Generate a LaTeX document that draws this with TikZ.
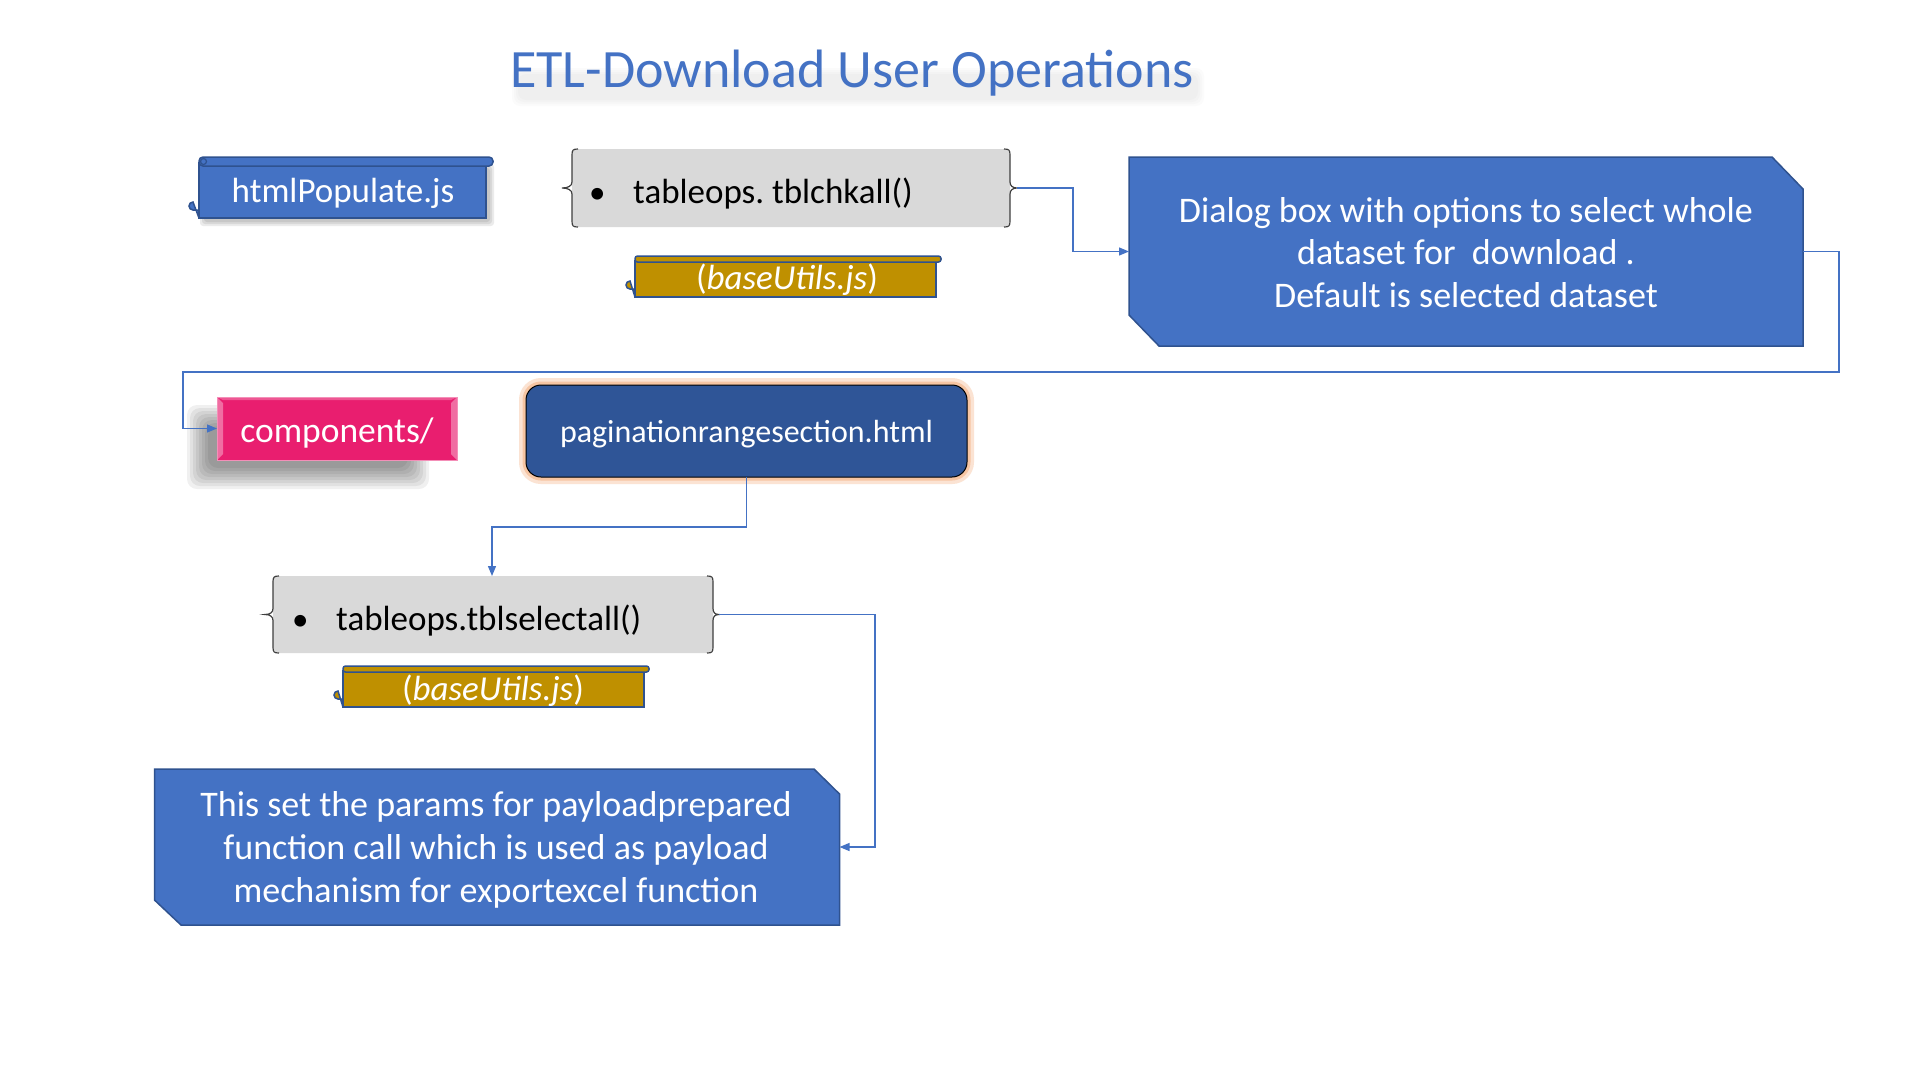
\documentclass[tikz,border=0pt]{standalone}
\usepackage{fontspec}
\setmainfont{Carlito}
\usetikzlibrary{arrows.meta}
\definecolor{accblue}{HTML}{4472C4}
\definecolor{bordblue}{HTML}{2F528F}
\definecolor{darkblue}{HTML}{2F5597}
\definecolor{boxgrey}{HTML}{D9D9D9}
\definecolor{bracegrey}{HTML}{3F3F3F}
\definecolor{gold}{HTML}{BF9000}
\definecolor{pink}{HTML}{E91E6F}
\definecolor{pinklight}{HTML}{F48FB8}
\definecolor{glow}{HTML}{F4B183}
\newcommand{\fs}[1]{\fontsize{#1}{1.2\dimexpr#1pt\relax}\selectfont}
\frenchspacing
\tikzset{
  anchorbox/.style={inner sep=0pt, outer sep=0pt, draw=none},
  wtext/.style={text=white, inner sep=0pt, anchor=base},
  btext/.style={text=black, inner sep=0pt, anchor=base west},
  conn/.style={draw=accblue, line width=1.3pt, -{Triangle[length=10pt,width=8pt]}},
  bodyblue/.style={fill=accblue, draw=bordblue, line width=1.5pt},
  bodygold/.style={fill=gold, draw=bordblue, line width=1.5pt},
  bracepen/.style={draw=bracegrey, line width=1.2pt},
  softshadow/.style={fill=black, opacity=0.06, rounded corners=10pt},
}
\begin{document}
\begin{tikzpicture}[x=1pt,y=-1pt]
\useasboundingbox (0,0) rectangle (1920,1080);
\fill[white] (0,0) rectangle (1920,1080);

% ---------- title ----------
\foreach \d in {0,2,4,6}{
  \fill[black, opacity=0.014, rounded corners=8pt] (518-\d,74-\d) rectangle (1198+\d,100+\d);
}
\node[anchor=base, text=accblue, inner sep=0pt] (title) at (852,87) {\fs{54}ETL-Download User Operations};

% ---------- htmlPopulate.js (scroll) ----------
\foreach \d in {0,2,4}{
  \fill[black, opacity=0.08, rounded corners=3pt] (204-\d,168-\d) rectangle (490+\d,222+\d);
}
\filldraw[bodyblue] (199,210) -- (193,210) arc[start angle=90, end angle=270, radius=4] -- (199,218);
\filldraw[bodyblue] (199,163) rectangle (486,218);
\filldraw[bodyblue, rounded corners=4pt] (199,157) rectangle (493,166);
\draw[bordblue, line width=1.2pt] (203.5,161.5) circle[radius=3];
\node[anchorbox, minimum width=294, minimum height=61] (html) at (346,187.5) {};
\node[wtext] (htmltxt) at (343,202) {\fs{35}htmlPopulate.js};

% ---------- tableops. tblchkall() ----------
\fill[boxgrey, rounded corners=6pt] (572,149) rectangle (1010,227);
\draw[bracepen] (578,149) .. controls (573,149) and (572,150) .. (572,155) -- (572,182)
   .. controls (572,186) and (568,188) .. (562,188) .. controls (568,188) and (572,190) .. (572,194)
   -- (572,221) .. controls (572,226) and (573,227) .. (578,227);
\draw[bracepen] (1004,149) .. controls (1009,149) and (1010,150) .. (1010,155) -- (1010,182)
   .. controls (1010,186) and (1013,188) .. (1017,188) .. controls (1013,188) and (1010,190) .. (1010,194)
   -- (1010,221) .. controls (1010,226) and (1009,227) .. (1004,227);
\node[anchorbox, minimum width=455, minimum height=78] (chk) at (789.5,188) {};
\node[btext] (chkbullet) at (589,203) {\fs{33}\textbullet};
\node[btext] (chktxt) at (633,203) {\fs{35}tableops. tblchkall()};

% ---------- (baseUtils.js) 1 ----------
\filldraw[bodygold] (635,289) -- (630,289) arc[start angle=90, end angle=270, radius=4] -- (635,297);
\filldraw[bodygold] (635,261) rectangle (936,297);
\filldraw[bodygold, rounded corners=2.5pt] (635,256) rectangle (941,262);
\node[anchorbox, minimum width=306, minimum height=41] (bua) at (788,276.5) {};
\node[wtext] (buatxt) at (787,289) {\fs{35}(\textit{baseUtils.js})};

% ---------- dialog box ----------
\filldraw[bodyblue] (1129,157) -- (1772,157) -- (1803,189) -- (1803,346) -- (1159,346) -- (1129,315) -- cycle;
\node[anchorbox, minimum width=674, minimum height=189] (dlg) at (1466,251.5) {};
\node[wtext] (dlgA) at (1466,222) {\fs{36}Dialog box with options to select whole};
\node[wtext] (dlgB) at (1466,264.5) {\fs{36}dataset for\ \ download .};
\node[wtext] (dlgC) at (1466,307) {\fs{36}Default is selected dataset};

% ---------- components/ ----------
\foreach \d in {0,3,6,9,12,15,18,21}{
  \fill[softshadow] (208-\d,426-\d) rectangle (408+\d,468+\d);
}
\node[anchorbox, fill=pink, draw=pinklight, line width=1pt, minimum width=240, minimum height=63]
      (comp) at (337,428.5) {};
\fill[pinklight, opacity=0.7] (217,397) -- (223,403) -- (223,454) -- (217,460) -- cycle;
\fill[pinklight, opacity=0.7] (457,397) -- (451,403) -- (451,454) -- (457,460) -- cycle;
\fill[pinklight, opacity=0.5] (217,397) -- (457,397) -- (451,400) -- (223,400) -- cycle;
\node[wtext] (comptxt) at (337,442) {\fs{35.5}components/};

% ---------- paginationrangesection.html ----------
\draw[glow, opacity=0.35, line width=14pt, rounded corners=15pt] (526,385) rectangle (967,477);
\draw[glow, opacity=0.6, line width=7pt, rounded corners=15pt] (526,385) rectangle (967,477);
\filldraw[fill=darkblue, draw=black, line width=1pt, rounded corners=15pt] (526,385) rectangle (967,477);
\node[anchorbox, minimum width=441, minimum height=92] (pag) at (746.5,431) {};
\node[wtext] (pagtxt) at (746.5,442) {\fs{32}paginationrangesection.html};

% ---------- tableops.tblselectall() ----------
\fill[boxgrey, rounded corners=6pt] (273,576) rectangle (713,653);
\draw[bracepen] (279,576) .. controls (274,576) and (273,577) .. (273,582) -- (273,608.5)
   .. controls (273,612.5) and (270,614.5) .. (265,614.5) .. controls (270,614.5) and (273,616.5) .. (273,620.5)
   -- (273,647) .. controls (273,652) and (274,653) .. (279,653);
\draw[bracepen] (707,576) .. controls (712,576) and (713,577) .. (713,582) -- (713,608.5)
   .. controls (713,612.5) and (715,614.5) .. (719,614.5) .. controls (715,614.5) and (713,616.5) .. (713,620.5)
   -- (713,647) .. controls (713,652) and (712,653) .. (707,653);
\node[anchorbox, minimum width=454, minimum height=77] (sel) at (492,614.5) {};
\node[btext] (selbullet) at (292,630) {\fs{33}\textbullet};
\node[btext] (seltxt) at (336,630) {\fs{35}tableops.tblselectall()};

% ---------- (baseUtils.js) 2 ----------
\filldraw[bodygold] (343,699) -- (338,699) arc[start angle=90, end angle=270, radius=4] -- (343,707);
\filldraw[bodygold] (343,671) rectangle (644,707);
\filldraw[bodygold, rounded corners=2.5pt] (343,666) rectangle (649,672);
\node[anchorbox, minimum width=306, minimum height=41] (bub) at (496,686.5) {};
\node[wtext] (bubtxt) at (493,700) {\fs{35}(\textit{baseUtils.js})};

% ---------- payload box ----------
\filldraw[bodyblue] (154.5,769) -- (814,769) -- (839.5,794) -- (839.5,925) -- (181,925) -- (154.5,900) -- cycle;
\node[anchorbox, minimum width=685, minimum height=156] (pay) at (497,847) {};
\node[wtext] (payA) at (496,816) {\fs{36}This set the params for payloadprepared};
\node[wtext] (payB) at (496,859) {\fs{36}function call which is used as payload};
\node[wtext] (payC) at (496,902) {\fs{36}mechanism for exportexcel function};

% ---------- connectors ----------
\draw[conn] (chk.east) -- ++(56,0) |- (dlg.west);
\draw[conn] (dlg.east) -- ++(36,0) |- (183,372) |- (comp.west);
\draw[conn] (pag.south) -- ++(0,50) -| (sel.north);
\draw[conn] (sel.east) -- ++(156,0) |- (pay.east);
\end{tikzpicture}
\end{document}
